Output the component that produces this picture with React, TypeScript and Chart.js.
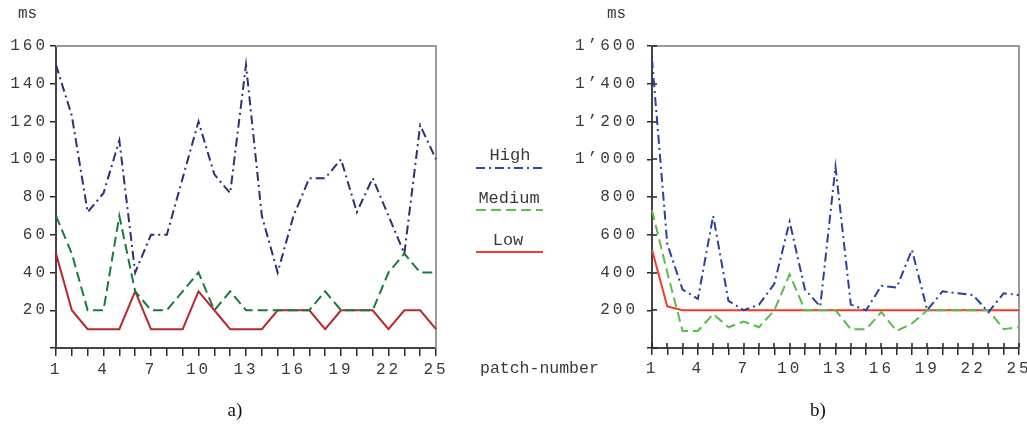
import React, { useEffect, useRef } from 'react';
import { Chart, registerables } from 'chart.js';

Chart.register(...registerables);

// ---------- data ----------
const patchNumbers = ['1','2','3','4','5','6','7','8','9','10','11','12','13','14','15','16','17','18','19','20','21','22','23','24','25'];

const leftHigh = [150, 123, 72, 82, 110, 40, 60, 60, 90, 120, 92, 82, 150, 70, 40, 70, 90, 90, 100, 72, 90, 70, 50, 118, 100];
const leftMedium = [70, 50, 20, 20, 70, 30, 20, 20, 30, 40, 20, 30, 20, 20, 20, 20, 20, 30, 20, 20, 20, 40, 50, 40, 40];
const leftLow = [50, 20, 10, 10, 10, 30, 10, 10, 10, 30, 20, 10, 10, 10, 20, 20, 20, 10, 20, 20, 20, 10, 20, 20, 10];

const rightHigh = [1530, 550, 310, 260, 700, 250, 200, 230, 340, 670, 310, 220, 960, 230, 200, 330, 320, 520, 200, 300, 290, 280, 190, 290, 280];
const rightMedium = [730, 400, 90, 90, 180, 110, 140, 110, 200, 390, 200, 200, 200, 100, 100, 190, 90, 130, 200, 200, 200, 200, 200, 100, 110];
const rightLow = [520, 220, 200, 200, 200, 200, 200, 200, 200, 200, 200, 200, 200, 200, 200, 200, 200, 200, 200, 200, 200, 200, 200, 200, 200];

const leftYMax = 160;
const leftYStep = 20;
const rightYMax = 1600;
const rightYStep = 200;

const seriesNames = ['High', 'Medium', 'Low'];

// ---------- styles ----------
const leftColors = ['#2c3173', '#1a7a3e', '#b8292e'];
const rightColors = ['#2b40a0', '#5dbb4c', '#ee3b2b'];
const legendColors = ['#2e45a2', '#62c052', '#ef3e30'];
const dashHigh = [9, 4, 2, 4];
const dashMedium = [10, 5];
const TICK_FONT = 'Liberation Mono, DejaVu Sans Mono, monospace';
const TEXT_COLOR = '#3a3a3a';

function formatRight(v: number): string {
  if (v === 0) return '';
  if (v >= 1000) return Math.floor(v / 1000) + '\u2019' + String(v % 1000).padStart(3, '0');
  return String(v);
}

function makeFramePlugin(innerTick: number) {
  return {
    id: 'frame' + innerTick,
    beforeDraw(chart: any) {
      try { (chart.ctx as any).letterSpacing = '3px'; } catch (e) {}
    },
    beforeDatasetsDraw(chart: any) {
      const { ctx, chartArea: a, scales } = chart;
      ctx.save();
      ctx.letterSpacing = '0px';
      ctx.strokeStyle = '#9a9a9a';
      ctx.lineWidth = 2;
      ctx.beginPath();
      ctx.moveTo(a.left, a.top);
      ctx.lineTo(a.right, a.top);
      ctx.lineTo(a.right, a.bottom);
      ctx.stroke();
      if (innerTick > 0) {
        ctx.strokeStyle = '#222';
        ctx.lineWidth = 1.5;
        ctx.beginPath();
        const ys = scales.y;
        ys.ticks.forEach((_t: any, i: number) => {
          const py = Math.round(ys.getPixelForTick(i));
          ctx.moveTo(a.left, py);
          ctx.lineTo(a.left + innerTick, py);
        });
        const xs = scales.x;
        xs.ticks.forEach((_t: any, i: number) => {
          const px = Math.round(xs.getPixelForTick(i));
          ctx.moveTo(px, a.bottom);
          ctx.lineTo(px, a.bottom - innerTick);
        });
        ctx.stroke();
      }
      ctx.restore();
    },
  };
}

interface PanelProps {
  high: number[];
  medium: number[];
  low: number[];
  colors: string[];
  yMax: number;
  yStep: number;
  yWidth: number;
  padRight: number;
  outTick: number;
  inTick: number;
  yLabelPad: number;
  fmt: (v: number) => string;
  width: number;
  height: number;
}

function Panel(p: PanelProps) {
  const ref = useRef<HTMLCanvasElement | null>(null);
  useEffect(() => {
    if (!ref.current) return;
    const lw = 2;
    const chart = new Chart(ref.current, {
      type: 'line',
      data: {
        labels: patchNumbers,
        datasets: [
          { label: seriesNames[0], data: p.high, borderColor: p.colors[0], borderWidth: lw, borderDash: dashHigh, pointRadius: 0, tension: 0, fill: false },
          { label: seriesNames[1], data: p.medium, borderColor: p.colors[1], borderWidth: lw, borderDash: dashMedium, pointRadius: 0, tension: 0, fill: false },
          { label: seriesNames[2], data: p.low, borderColor: p.colors[2], borderWidth: lw, pointRadius: 0, tension: 0, fill: false },
        ],
      },
      options: {
        responsive: false,
        animation: false,
        devicePixelRatio: 1,
        layout: { padding: { top: 46, right: p.padRight, left: 0, bottom: 0 } },
        plugins: { legend: { display: false }, tooltip: { enabled: false } },
        scales: {
          x: {
            type: 'category',
            offset: false,
            grid: { drawOnChartArea: false, drawTicks: true, tickLength: p.outTick + 2, color: '#2a2a2a', lineWidth: 1.5 },
            border: { display: true, color: '#444', width: 2 },
            ticks: {
              autoSkip: false,
              maxRotation: 0,
              minRotation: 0,
              padding: 4,
              color: TEXT_COLOR,
              font: { family: TICK_FONT, size: 16 },
              callback: (_v: any, i: number) => (i % 3 === 0 ? patchNumbers[i] : ''),
            },
            afterFit: (s: any) => { s.height = 52; s.paddingLeft = 0; s.paddingRight = 0; },
          },
          y: {
            type: 'linear',
            min: 0,
            max: p.yMax,
            grid: { drawOnChartArea: false, drawTicks: true, tickLength: p.outTick, color: '#2a2a2a', lineWidth: 1.5 },
            border: { display: true, color: '#444', width: 2 },
            ticks: {
              stepSize: p.yStep,
              padding: p.yLabelPad,
              color: TEXT_COLOR,
              font: { family: TICK_FONT, size: 16 },
              callback: (v: any) => p.fmt(Number(v)),
            },
            afterFit: (s: any) => { s.width = p.yWidth; s.paddingTop = 0; s.paddingBottom = 0; },
          },
        },
      },
      plugins: [makeFramePlugin(p.inTick)],
    } as any);
    return () => chart.destroy();
  }, []);
  return <canvas ref={ref} width={p.width} height={p.height} style={{ display: 'block', width: p.width, height: p.height }} />;
}

const monoText: React.CSSProperties = {
  position: 'absolute',
  fontFamily: 'Liberation Mono, monospace',
  color: TEXT_COLOR,
  whiteSpace: 'nowrap',
  lineHeight: '20px',
};

export default function App() {
  return (
    <div style={{ position: 'absolute', left: 0, top: 0, width: 1027, height: 430, background: '#fff', overflow: 'hidden' }}>
      <div style={{ position: 'absolute', left: 0, top: 0 }}>
        <Panel high={leftHigh} medium={leftMedium} low={leftLow} colors={leftColors} yMax={leftYMax} yStep={leftYStep}
          yWidth={56} padRight={44} outTick={6} inTick={0} yLabelPad={2} fmt={(v) => (v === 0 ? '' : String(v))} width={480} height={400} />
      </div>
      <div style={{ position: 'absolute', left: 560, top: 0 }}>
        <Panel high={rightHigh} medium={rightMedium} low={rightLow} colors={rightColors} yMax={rightYMax} yStep={rightYStep}
          yWidth={92} padRight={8} outTick={5} inTick={5} yLabelPad={9} fmt={formatRight} width={467} height={400} />
      </div>

      <div style={{ ...monoText, left: 18, top: 4, fontSize: 16 }}>ms</div>
      <div style={{ ...monoText, left: 607, top: 4, fontSize: 16 }}>ms</div>

      <div style={{ ...monoText, left: 460, width: 100, textAlign: 'center', top: 146, fontSize: 17 }}>{seriesNames[0]}</div>
      <div style={{ ...monoText, left: 459, width: 100, textAlign: 'center', top: 189, fontSize: 17 }}>{seriesNames[1]}</div>
      <div style={{ ...monoText, left: 458, width: 100, textAlign: 'center', top: 231, fontSize: 17 }}>{seriesNames[2]}</div>
      <svg style={{ position: 'absolute', left: 0, top: 0 }} width={1027} height={430}>
        <line x1={476} x2={543} y1={168} y2={168} stroke={legendColors[0]} strokeWidth={2} strokeDasharray={dashHigh.join(' ')} />
        <line x1={476} x2={543} y1={210} y2={210} stroke={legendColors[1]} strokeWidth={2} strokeDasharray={dashMedium.join(' ')} />
        <line x1={476} x2={543} y1={252} y2={252} stroke={legendColors[2]} strokeWidth={2} />
      </svg>
      <div style={{ ...monoText, left: 480, top: 359, fontSize: 16.5 }}>patch-number</div>

      <div style={{ position: 'absolute', left: 185, width: 100, textAlign: 'center', top: 398, fontFamily: 'Liberation Serif, serif', fontSize: 19, lineHeight: '24px', color: '#111' }}>a)</div>
      <div style={{ position: 'absolute', left: 768, width: 100, textAlign: 'center', top: 398, fontFamily: 'Liberation Serif, serif', fontSize: 19, lineHeight: '24px', color: '#111' }}>b)</div>
    </div>
  );
}
